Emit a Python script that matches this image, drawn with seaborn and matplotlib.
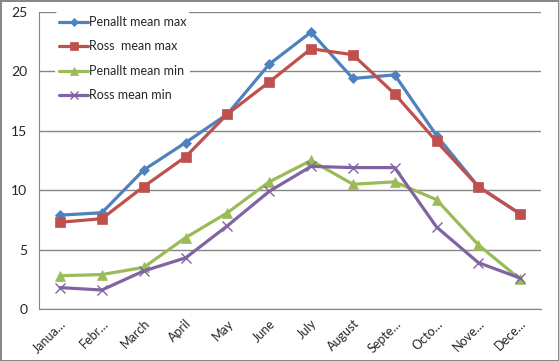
import pandas as pd
import seaborn as sns
import matplotlib.pyplot as plt
from matplotlib.ticker import MultipleLocator

# monthly temperature means
months = ["January", "February", "March", "April", "May", "June",
          "July", "August", "September", "October", "November", "December"]
month_labels = ["Janua…", "Febr…", "March", "April", "May", "June",
                "July", "August", "Septe…", "Octo…", "Nove…", "Dece…"]

penallt_max = [7.9, 8.1, 11.7, 14.0, 16.4, 20.6, 23.3, 19.4, 19.7, 14.6, 10.3, 8.0]
ross_max = [7.3, 7.6, 10.3, 12.8, 16.4, 19.1, 21.9, 21.4, 18.1, 14.1, 10.3, 8.0]
penallt_min = [2.8, 2.9, 3.5, 6.0, 8.1, 10.7, 12.5, 10.5, 10.7, 9.2, 5.4, 2.5]
ross_min = [1.8, 1.6, 3.2, 4.3, 7.0, 9.9, 12.0, 11.9, 11.9, 6.9, 3.9, 2.6]

sns.set_style("white")
plt.rcParams['font.family'] = ['Lato', 'DejaVu Sans']

fig = plt.figure(figsize=(5.59, 3.61), dpi=100)
ax = fig.add_axes([0.07, 0.144, 0.898, 0.823])

df = pd.DataFrame({"month": months})
df["Penallt mean max"] = penallt_max
df["Ross  mean max"] = ross_max
df["Penallt mean min"] = penallt_min
df["Ross mean min"] = ross_min

series = [
    ("Penallt mean max", "#4F81BD", "D", 5.5),
    ("Ross  mean max", "#C0504D", "s", 7),
    ("Penallt mean min", "#9BBB59", "^", 7),
    ("Ross mean min", "#8064A2", "x", 7),
]

for name, col, mk, ms in series:
    sns.lineplot(data=df, x="month", y=name, sort=False, ax=ax, color=col,
                 marker=mk, markersize=ms, markeredgecolor=col,
                 markeredgewidth=1 if mk == "x" else 0.5,
                 linewidth=2.3, label=name)

ax.set_xlim(-0.5, len(months) - 0.5)
ax.set_ylim(0, 25)
ax.yaxis.set_major_locator(MultipleLocator(5))
ax.yaxis.set_minor_locator(MultipleLocator(1))
ax.grid(axis="y", which="major", color="#868686", linewidth=1)
ax.set_axisbelow(True)

ax.set_xticks(range(len(months)))
ax.set_xticklabels(month_labels, rotation=45, ha="right", rotation_mode="anchor", fontsize=9)
ax.set_xticks([i - 0.5 for i in range(len(months) + 1)], minor=True)
ax.tick_params(axis="x", which="major", length=0, pad=6)
ax.tick_params(axis="x", which="minor", length=4, direction="out", color="#868686")
ax.tick_params(axis="y", which="major", length=5, direction="out", color="#868686", labelsize=10)
ax.tick_params(axis="y", which="minor", length=4, direction="inout", color="#868686")
ax.set(xlabel=None, ylabel=None)

for s in ["top", "right"]:
    ax.spines[s].set_visible(False)
for s in ["left", "bottom"]:
    ax.spines[s].set_color("#868686")

leg = ax.legend(loc="upper left", bbox_to_anchor=(0.02, 1.02), fontsize=9,
                handlelength=2.3, handletextpad=0.1, labelspacing=1.0,
                frameon=True, facecolor="white", edgecolor="none", framealpha=1,
                borderpad=0.3, markerscale=0.8)

fig.patch.set_edgecolor("#888888")
fig.patch.set_linewidth(2)

plt.savefig("out.png", dpi=100)
